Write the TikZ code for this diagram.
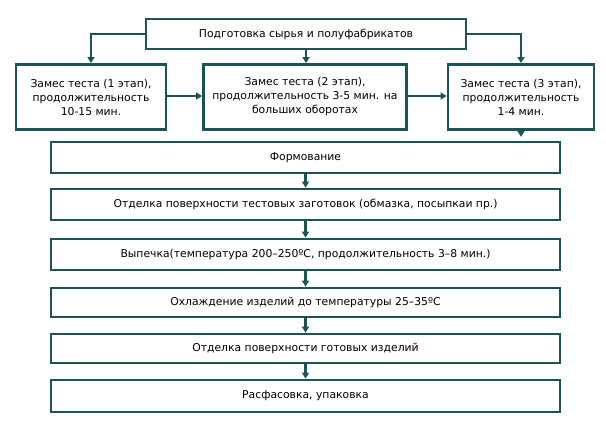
\documentclass[tikz,border=0pt]{standalone}
\usepackage{fontspec}
\setmainfont{DejaVu Sans}
\usetikzlibrary{arrows.meta}
\definecolor{teal}{RGB}{28,84,84}
\begin{document}
\begin{tikzpicture}[x=1bp,y=-1bp,
  box/.style={draw=teal,line width=2.8bp,fill=white,inner sep=0pt,align=center,
    font=\fontsize{10.8bp}{14bp}\selectfont,text=black},
  arr/.style={draw=teal,line width=2.8bp,-{Triangle[width=7bp,length=6bp]}}]
\useasboundingbox (0,0) rectangle (606,425);
\node[box,minimum width=320bp,minimum height=30bp] (top) at (306,34) {Подготовка сырья и полуфабрикатов};
\node[box,minimum width=150bp,minimum height=65bp] (b1) at (91,97) {Замес теста (1 этап),\\продолжительность\\10-15 мин.};
\node[box,minimum width=203bp,minimum height=65bp] (b2) at (305,97) {Замес теста (2 этап),\\продолжительность 3-5 мин. на\\больших оборотах};
\node[box,minimum width=146bp,minimum height=65bp] (b3) at (521,97) {Замес теста (3 этап),\\продолжительность\\1-4 мин.};
\node[box,minimum width=509bp,minimum height=31bp] (s1) at (305.5,157.5) {Формование};
\node[box,minimum width=509bp,minimum height=31bp] (s2) at (305.5,204.5) {Отделка поверхности тестовых заготовок (обмазка, посыпкаи пр.)};
\node[box,minimum width=509bp,minimum height=31bp] (s3) at (305.5,254.5) {Выпечка(температура 200–250ºС, продолжительность 3–8 мин.)};
\node[box,minimum width=509bp,minimum height=29bp] (s4) at (305.5,302.5) {Охлаждение изделий до температуры 25–35ºС};
\node[box,minimum width=509bp,minimum height=29bp] (s5) at (305.5,348.5) {Отделка поверхности готовых изделий};
\node[box,minimum width=509bp,minimum height=32bp] (s6) at (305.5,396) {Расфасовка, упаковка};
\draw[arr] (top.west) -| (b1.north);
\draw[arr] (top.east) -| (b3.north);
\draw[arr] (top.south) -- (top.south |- b2.north);
\draw[arr] (b1.east |- 0,96) -- (b2.west |- 0,96);
\draw[arr] (b2.east |- 0,96) -- (b3.west |- 0,96);
\draw[arr] (b3.south) -- ([yshift=-6bp]b3.south);
\draw[arr] (s1.south) -- (s2.north);
\draw[arr] (s2.south) -- (s3.north);
\draw[arr] (s3.south) -- (s4.north);
\draw[arr] (s4.south) -- (s5.north);
\draw[arr] (s5.south) -- (s6.north);
\end{tikzpicture}
\end{document}
